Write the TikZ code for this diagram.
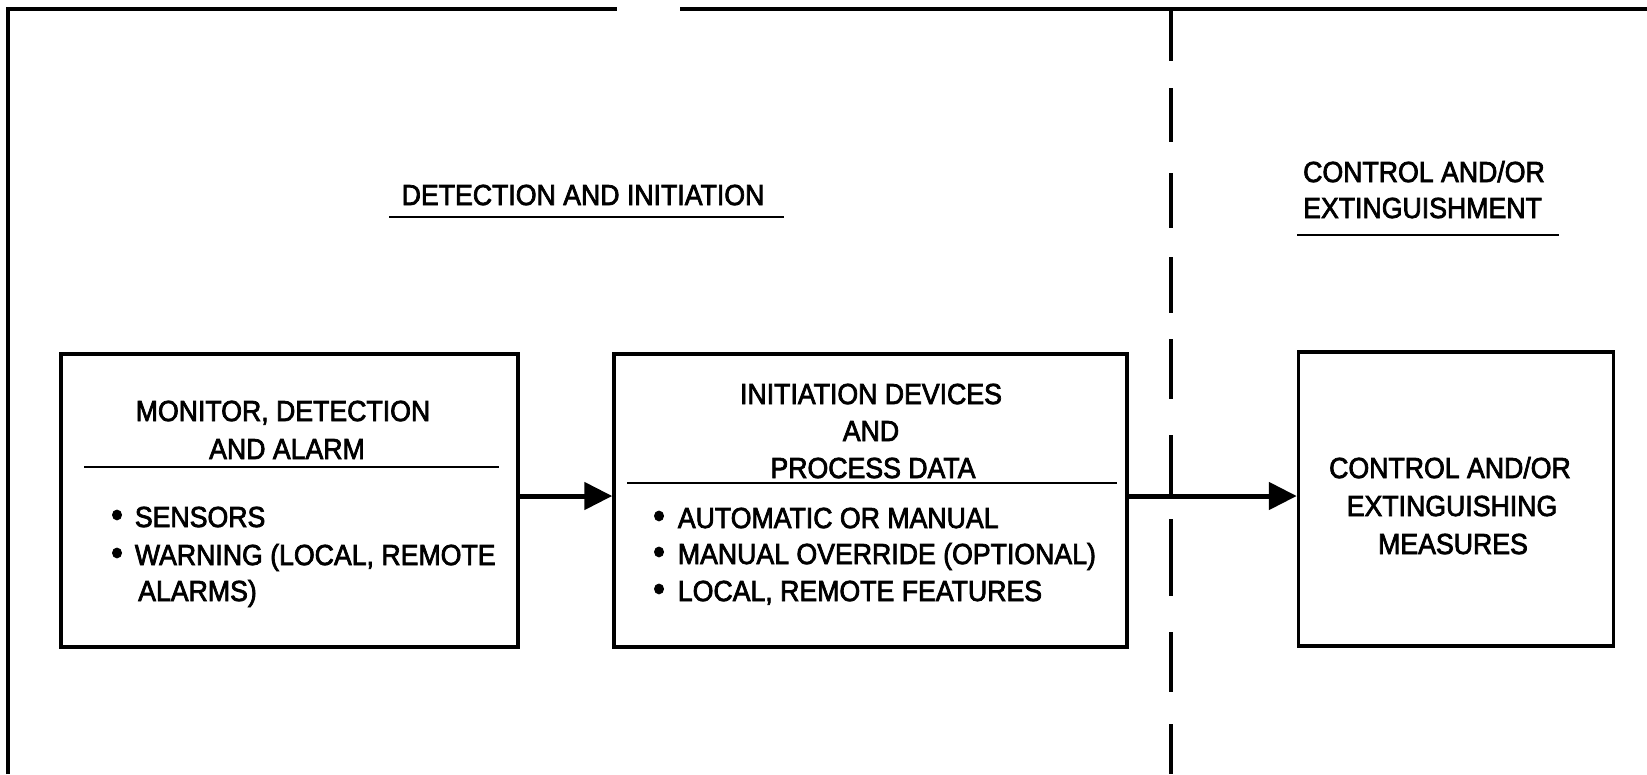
\documentclass[tikz,border=0pt]{standalone}
\usepackage{fontspec}
\setmainfont[FakeStretch=0.92,FakeBold=2.5]{Liberation Sans}
\usetikzlibrary{arrows.meta}

\newcommand{\blt}{\scalebox{1.25}{•}}

\begin{document}
\begin{tikzpicture}[x=1pt,y=-1pt,
  frame/.style={line width=4pt},
  divider/.style={line width=3.5pt},
  box/.style={draw, line width=3.5pt, inner sep=0pt},
  rule/.style={line width=2.6pt},
  lbl/.style={font=\fontsize{29}{36}\selectfont, inner sep=0pt, anchor=base},
  item/.style={lbl, anchor=base west},
  conn/.style={line width=5pt, -{Triangle[length=28pt,width=27pt]}}]

\fill[white] (0,0) rectangle (1647,774);
\useasboundingbox (0,0) rectangle (1647,774);

% outer frame: left edge and broken top edge
\draw[frame] (8,774) -- (8,9) -- (617,9);
\draw[frame] (680,9) -- (1647,9);

% dashed separator between the two stages
\foreach \a/\b in {9/61, 88/142, 173/228, 257/313, 339/399, 435/497, 519/596, 632/692, 724/774}
  \draw[divider] (1171,\a) -- (1171,\b);

% stage headings
\node[lbl] (h1) at (583,205) {DETECTION AND INITIATION};
\draw[rule] (389,217) -- (784,217);
\node[lbl, anchor=base west] (h2a) at (1303,182) {CONTROL AND/OR};
\node[lbl, anchor=base west] (h2b) at (1303,218) {EXTINGUISHMENT};
\draw[rule] (1297,235) -- (1559,235);

% boxes
\node[box, minimum width=457pt, minimum height=293pt] (b1) at (289.5,500.5) {};
\node[box, minimum width=513pt, minimum height=293pt] (b2) at (870.5,500.5) {};
\node[box, minimum width=315pt, minimum height=294pt] (b3) at (1456,499) {};

% box 1 contents
\node[lbl] (m1) at (283,421) {MONITOR, DETECTION};
\node[lbl] (m2) at (287,459) {AND ALARM};
\draw[rule] (84,467) -- (499,467);
\node[item] (m3) at (111,527) {\blt\hspace{12pt}SENSORS};
\node[item] (m4) at (111,565) {\blt\hspace{12pt}WARNING (LOCAL, REMOTE};
\node[item] (m5) at (138,601) {ALARMS)};

% box 2 contents
\node[lbl] (i1) at (871,404) {INITIATION DEVICES};
\node[lbl] (i2) at (871,441) {AND};
\node[lbl] (i3) at (873,478) {PROCESS DATA};
\draw[rule] (627,483) -- (1117,483);
\node[item] (i4) at (653,528) {\blt\hspace{13pt}AUTOMATIC OR MANUAL};
\node[item] (i5) at (653,564) {\blt\hspace{13pt}MANUAL OVERRIDE (OPTIONAL)};
\node[item] (i6) at (653,601) {\blt\hspace{13pt}LOCAL, REMOTE FEATURES};

% box 3 contents
\node[lbl] (c1) at (1450,478) {CONTROL AND/OR};
\node[lbl] (c2) at (1452,516) {EXTINGUISHING};
\node[lbl] (c3) at (1453,554) {MEASURES};

% flow arrows
\coordinate (lev) at (0,496);
\draw[conn] (b1.east |- lev) -- (b2.west |- lev);
\draw[conn] (b2.east |- lev) -- (b3.west |- lev);

\end{tikzpicture}
\end{document}
